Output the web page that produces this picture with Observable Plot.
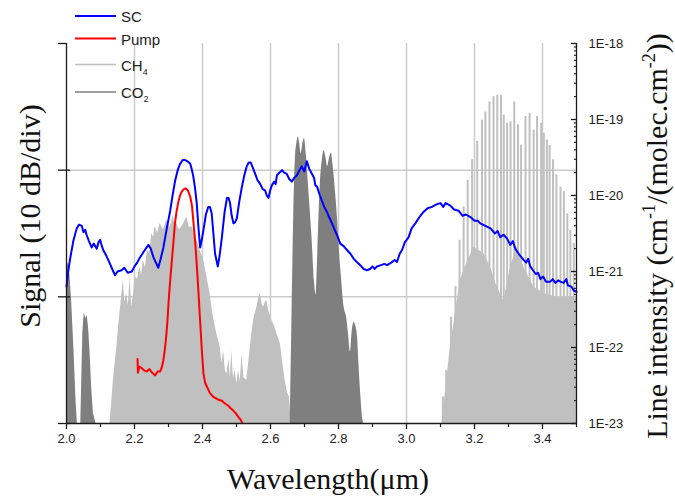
<!DOCTYPE html>
<html><head><meta charset="utf-8">
<script src="https://cdn.jsdelivr.net/npm/d3@7"></script>
<script src="https://cdn.jsdelivr.net/npm/@observablehq/plot@0.6"></script>
<style>body{margin:0;background:#fff}</style>
</head><body><div id="chart"></div>
<script>
// SC spectrum: [wavelength µm, relative signal dB]
const scData = [[2.000,-19.2],[2.005,-18.0],[2.010,-17.1],[2.020,-15.6],[2.030,-14.6],[2.037,-14.3],[2.045,-14.4],[2.050,-14.9],[2.055,-14.7],[2.059,-15.1],[2.066,-15.6],[2.074,-16.1],[2.080,-15.8],[2.089,-16.2],[2.094,-15.7],[2.099,-15.5],[2.104,-16.0],[2.108,-16.3],[2.118,-16.8],[2.128,-17.4],[2.136,-17.9],[2.143,-18.3],[2.150,-18.0],[2.162,-17.9],[2.170,-17.7],[2.180,-18.1],[2.192,-18.0],[2.200,-17.6],[2.208,-17.3],[2.216,-16.9],[2.228,-16.4],[2.241,-15.9],[2.248,-16.2],[2.256,-16.9],[2.263,-17.3],[2.270,-17.7],[2.277,-17.0],[2.285,-16.1],[2.295,-14.6],[2.305,-13.2],[2.312,-12.0],[2.319,-10.9],[2.327,-10.0],[2.334,-9.5],[2.342,-9.2],[2.349,-9.2],[2.356,-9.3],[2.364,-9.5],[2.369,-10.0],[2.373,-10.5],[2.378,-11.4],[2.383,-12.6],[2.388,-14.5],[2.393,-16.1],[2.398,-15.5],[2.403,-14.7],[2.410,-13.5],[2.417,-12.9],[2.422,-12.9],[2.427,-13.4],[2.432,-15.0],[2.437,-16.6],[2.445,-17.6],[2.450,-16.8],[2.457,-15.3],[2.465,-13.3],[2.472,-12.2],[2.477,-12.2],[2.481,-12.6],[2.486,-13.6],[2.491,-14.2],[2.496,-14.1],[2.501,-13.8],[2.508,-12.5],[2.516,-11.3],[2.523,-10.4],[2.530,-9.7],[2.536,-9.4],[2.542,-9.4],[2.548,-9.8],[2.555,-10.3],[2.562,-10.8],[2.570,-11.1],[2.577,-11.5],[2.584,-11.6],[2.589,-12.0],[2.594,-12.2],[2.599,-11.6],[2.604,-11.2],[2.611,-10.9],[2.615,-11.1],[2.619,-10.4],[2.626,-10.2],[2.634,-10.0],[2.640,-10.2],[2.648,-10.3],[2.655,-10.7],[2.663,-10.9],[2.670,-10.6],[2.678,-10.4],[2.685,-10.0],[2.692,-9.7],[2.699,-10.1],[2.707,-9.3],[2.714,-9.9],[2.722,-10.3],[2.728,-10.6],[2.732,-11.2],[2.737,-11.3],[2.744,-11.9],[2.751,-12.4],[2.758,-12.9],[2.766,-13.3],[2.774,-13.8],[2.781,-14.2],[2.790,-14.8],[2.797,-15.2],[2.805,-15.8],[2.815,-16.0],[2.825,-16.3],[2.835,-16.6],[2.845,-17.0],[2.854,-17.25],[2.864,-17.5],[2.874,-17.8],[2.884,-17.9],[2.893,-17.8],[2.900,-17.6],[2.906,-17.8],[2.913,-17.6],[2.925,-17.5],[2.935,-17.4],[2.943,-17.5],[2.955,-17.3],[2.965,-17.1],[2.972,-17.25],[2.980,-16.6],[2.987,-16.3],[2.995,-15.7],[3.006,-15.3],[3.015,-14.6],[3.026,-14.2],[3.038,-13.7],[3.050,-13.3],[3.062,-13.0],[3.075,-12.9],[3.088,-12.7],[3.100,-12.6],[3.108,-12.9],[3.115,-12.6],[3.129,-12.8],[3.140,-13.1],[3.153,-13.2],[3.165,-13.6],[3.175,-13.5],[3.188,-13.7],[3.200,-14.0],[3.210,-14.0],[3.217,-14.2],[3.232,-14.4],[3.247,-14.6],[3.260,-15.0],[3.268,-14.8],[3.276,-15.3],[3.285,-15.1],[3.296,-15.4],[3.305,-15.9],[3.313,-15.6],[3.320,-16.2],[3.330,-16.6],[3.345,-17.1],[3.352,-17.3],[3.358,-17.0],[3.364,-17.6],[3.372,-17.9],[3.380,-18.2],[3.387,-18.1],[3.394,-18.6],[3.402,-18.4],[3.410,-18.8],[3.423,-18.8],[3.430,-18.6],[3.438,-18.9],[3.446,-18.7],[3.453,-18.8],[3.462,-18.9],[3.470,-18.6],[3.475,-19.1],[3.485,-19.2],[3.492,-19.5],[3.500,-19.6]];

// Pump spectrum: [wavelength µm, relative signal dB]
const pumpData = [[2.209,-24.9],[2.210,-26.0],[2.214,-25.5],[2.220,-25.6],[2.228,-25.8],[2.236,-25.9],[2.244,-25.7],[2.252,-26.0],[2.261,-26.2],[2.268,-25.9],[2.275,-25.9],[2.280,-25.6],[2.285,-25.0],[2.289,-24.2],[2.293,-23.2],[2.297,-21.9],[2.300,-20.5],[2.305,-18.7],[2.310,-17.1],[2.315,-15.5],[2.319,-14.2],[2.324,-13.2],[2.329,-12.5],[2.334,-12.0],[2.339,-11.7],[2.345,-11.5],[2.351,-11.45],[2.357,-11.6],[2.364,-12.1],[2.369,-12.8],[2.373,-14.0],[2.378,-15.5],[2.383,-17.4],[2.388,-19.6],[2.393,-21.9],[2.398,-24.2],[2.403,-26.1],[2.408,-26.8],[2.413,-27.1],[2.422,-27.6],[2.432,-27.9],[2.445,-28.1],[2.457,-28.2],[2.465,-28.4],[2.476,-28.6],[2.483,-28.8],[2.491,-29.0],[2.498,-29.2],[2.506,-29.5],[2.512,-29.7],[2.516,-29.9]];

// CH4 line-intensity envelope, 2.1–2.66 µm: [wavelength µm, log10 intensity]
const ch4BandA = [[2.128,-23],[2.138,-22.43],[2.148,-21.99],[2.157,-21.55],[2.162,-21.35],[2.167,-21.12],[2.172,-21.4],[2.177,-21.29],[2.182,-21.45],[2.187,-21.07],[2.192,-21.47],[2.197,-21.3],[2.202,-21.07],[2.209,-21.1],[2.216,-20.94],[2.221,-21.05],[2.226,-20.85],[2.232,-20.95],[2.238,-20.72],[2.245,-20.75],[2.251,-20.50],[2.256,-20.55],[2.261,-20.41],[2.268,-20.5],[2.275,-20.37],[2.285,-20.45],[2.295,-20.33],[2.305,-20.42],[2.314,-20.26],[2.319,-20.4],[2.324,-20.37],[2.332,-20.45],[2.339,-20.41],[2.347,-20.35],[2.354,-20.28],[2.361,-20.42],[2.369,-20.41],[2.376,-20.5],[2.383,-20.59],[2.393,-20.72],[2.403,-20.85],[2.413,-21.07],[2.422,-21.29],[2.432,-21.60],[2.442,-21.82],[2.452,-21.99],[2.457,-22.2],[2.462,-22.04],[2.467,-22.3],[2.472,-22.35],[2.478,-22.15],[2.482,-22.4],[2.486,-22.04],[2.491,-22.4],[2.496,-22.3],[2.501,-22.48],[2.506,-22.3],[2.511,-22.45],[2.516,-22.10],[2.522,-22.4],[2.530,-22.43],[2.537,-22.15],[2.545,-21.82],[2.552,-21.6],[2.560,-21.47],[2.565,-21.35],[2.570,-21.29],[2.575,-21.42],[2.580,-21.47],[2.585,-21.4],[2.589,-21.38],[2.595,-21.52],[2.604,-21.64],[2.612,-21.72],[2.619,-21.82],[2.625,-21.9],[2.629,-21.95],[2.636,-22.2],[2.643,-22.43],[2.650,-22.6],[2.656,-22.65],[2.661,-23]];

// CH4 nu3 band dense background, 3.1–3.5 µm: [wavelength µm, log10 intensity]
const ch4BandBBase = [[3.104,-23],[3.114,-22.61],[3.129,-21.99],[3.144,-21.55],[3.158,-21.12],[3.173,-20.94],[3.198,-20.68],[3.227,-20.76],[3.247,-20.94],[3.266,-21.20],[3.286,-21.38],[3.306,-20.94],[3.325,-20.68],[3.345,-20.94],[3.374,-21.20],[3.404,-21.29],[3.443,-21.34],[3.472,-21.34],[3.500,-21.34]];

// CH4 nu3 band strong lines: [wavelength µm, log10 intensity]
const ch4BandBLines = [[3.107,-22.65],[3.117,-22.30],[3.131,-21.60],[3.144,-21.20],[3.156,-20.59],[3.168,-20.15],[3.180,-19.80],[3.193,-19.53],[3.208,-19.29],[3.222,-19.01],[3.232,-18.90],[3.244,-18.77],[3.256,-18.70],[3.267,-18.68],[3.278,-18.68],[3.286,-18.94],[3.296,-19.05],[3.306,-19.03],[3.317,-18.77],[3.328,-19.07],[3.337,-19.34],[3.350,-18.96],[3.362,-18.92],[3.374,-19.14],[3.384,-18.96],[3.396,-19.05],[3.404,-19.18],[3.413,-19.27],[3.421,-19.34],[3.431,-19.53],[3.441,-19.73],[3.453,-19.89],[3.463,-19.95],[3.473,-20.24],[3.482,-20.46],[3.492,-20.63]];

// CO2 bands: [wavelength µm, log10 intensity]
const co2BandA = [[2.000,-20.95],[2.005,-20.88],[2.010,-21.05],[2.015,-21.38],[2.022,-22.04],[2.028,-22.70],[2.032,-23]];
const co2BandB = [[2.042,-23],[2.045,-22.4],[2.048,-21.81],[2.052,-21.55],[2.057,-21.62],[2.061,-21.58],[2.065,-21.75],[2.069,-22.04],[2.074,-22.52],[2.079,-22.87],[2.087,-23]];
const co2BandC = [[2.658,-23],[2.663,-21.64],[2.668,-20.33],[2.673,-19.53],[2.678,-19.30],[2.682,-19.23],[2.686,-19.32],[2.690,-19.45],[2.695,-19.32],[2.700,-19.25],[2.705,-19.45],[2.712,-19.89],[2.722,-20.55],[2.729,-21.12],[2.734,-21.31],[2.739,-20.76],[2.746,-19.89],[2.752,-19.55],[2.758,-19.41],[2.763,-19.5],[2.768,-19.62],[2.774,-19.5],[2.779,-19.44],[2.784,-19.6],[2.790,-19.89],[2.797,-20.3],[2.803,-20.76],[2.809,-21.1],[2.815,-21.42],[2.825,-21.64],[2.830,-21.85],[2.835,-22.06],[2.840,-21.8],[2.846,-21.67],[2.851,-21.72],[2.856,-21.86],[2.860,-22.2],[2.864,-22.52],[2.872,-22.96],[2.874,-23]];

// ticks
const xTicks = [2.0, 2.2, 2.4, 2.6, 2.8, 3.0, 3.2, 3.4];
const xTickLabels = ["2.0", "2.2", "2.4", "2.6", "2.8", "3.0", "3.2", "3.4"];
const xMinorTicks = [2.1, 2.3, 2.5, 2.7, 2.9, 3.1, 3.3, 3.5];
const xGrid = [2.2, 2.4, 2.6, 2.8, 3.0, 3.2, 3.4];
const rightTicks = [1e-23, 1e-22, 1e-21, 1e-20, 1e-19, 1e-18];
const rightTickLabels = ["1E-23", "1E-22", "1E-21", "1E-20", "1E-19", "1E-18"];
const leftTicksDb = [-30, -20, -10, 0];
const leftGridDb = [-20, -10];
const legendItems = [
  {label: "SC", sub: "", color: "#0000ff"},
  {label: "Pump", sub: "", color: "#ff0000"},
  {label: "CH", sub: "4", color: "#c0c0c0"},
  {label: "CO", sub: "2", color: "#7f7f7f"}
];
const xTitle = "Wavelength(μm)";
const leftTitle = "Signal (10 dB/div)";

// map the left (dB, 10 dB/div over 3 divisions) axis onto the log intensity scale
const dbToI = v => 10 ** (-23 + (v + 30) / 6);
const pw = v => 10 ** v;

const minorRight = [];
for (let e = -23; e < -18; e++) for (let m = 2; m <= 9; m++) minorRight.push(m * 10 ** e);

const CH4 = "#c0c0c0", CO2 = "#7f7f7f", GRID = "#cbcbcb", AX = "#1a1a1a";

const chart = Plot.plot({
  width: 675, height: 497,
  marginLeft: 66, marginRight: 99, marginTop: 43, marginBottom: 74,
  style: {fontFamily: "'Liberation Sans', Arial, sans-serif", fontSize: "13px", background: "#fff", color: "#222", overflow: "visible"},
  x: {domain: [2, 3.5]},
  y: {type: "log", domain: [1e-23, 1e-18]},
  marks: [
    Plot.ruleX(xGrid, {stroke: GRID, strokeWidth: 1.5}),
    Plot.ruleY(leftGridDb, {y: d => dbToI(d), stroke: GRID, strokeWidth: 1.5}),
    Plot.areaY(ch4BandA, {x: d => d[0], y1: 1e-23, y2: d => pw(d[1]), fill: CH4}),
    Plot.areaY(ch4BandBBase, {x: d => d[0], y1: 1e-23, y2: d => pw(d[1]), fill: CH4}),
    Plot.ruleX(ch4BandBLines, {x: d => d[0], y1: 1e-23, y2: d => pw(d[1]), stroke: CH4, strokeWidth: 2}),
    Plot.areaY(co2BandA, {x: d => d[0], y1: 1e-23, y2: d => pw(d[1]), fill: CO2}),
    Plot.areaY(co2BandB, {x: d => d[0], y1: 1e-23, y2: d => pw(d[1]), fill: CO2}),
    Plot.areaY(co2BandC, {x: d => d[0], y1: 1e-23, y2: d => pw(d[1]), fill: CO2, curve: "monotone-x"}),
    Plot.line(pumpData, {x: d => d[0], y: d => dbToI(d[1]), stroke: "#ff0000", strokeWidth: 2}),
    Plot.line(scData, {x: d => d[0], y: d => dbToI(d[1]), stroke: "#0000ff", strokeWidth: 2}),
    Plot.ruleX([2, 3.5], {stroke: AX, strokeWidth: 1.3}),
    Plot.ruleY([1e-23], {stroke: AX, strokeWidth: 1.3}),
    Plot.axisX(xTicks, {tickSize: 6, tickPadding: 4, stroke: AX, strokeWidth: 1.3,
      tickFormat: d => xTickLabels[xTicks.indexOf(d)], label: null, fontSize: 13}),
    Plot.axisX(xMinorTicks, {tickSize: 4, stroke: AX, strokeWidth: 1.2, tickFormat: () => "", label: null}),
    Plot.axisY(leftTicksDb.map(dbToI), {anchor: "left", tickSize: 8, stroke: AX, strokeWidth: 1.3, tickFormat: () => "", label: null}),
    Plot.axisY(leftTicksDb.slice(0, 3).map(dbToI), {anchor: "left", tickSize: -4, stroke: AX, strokeWidth: 1.3, tickFormat: () => "", label: null}),
    Plot.axisY(rightTicks, {anchor: "right", tickSize: -6, stroke: AX, strokeWidth: 1.3, tickFormat: () => "", label: null}),
    Plot.axisY(minorRight, {anchor: "right", tickSize: -3, stroke: AX, strokeWidth: 1.1, tickFormat: () => "", label: null}),
    Plot.axisY(rightTicks, {anchor: "right", tickSize: 0, tickPadding: 12, textAnchor: "start",
      tickFormat: d => rightTickLabels[rightTicks.indexOf(d)], label: null, fontSize: 13})
  ]
});
document.getElementById("chart").append(chart);

const svg = d3.select(chart);
// legend
const legendY = [16, 38.5, 64.5, 92];
legendItems.forEach((it, i) => {
  const y = legendY[i];
  svg.append("line").attr("x1", 75).attr("x2", 116).attr("y1", y).attr("y2", y)
    .attr("stroke", it.color).attr("stroke-width", i < 2 ? 2 : 1.6);
  const t = svg.append("text").attr("x", 121).attr("y", y + 6).attr("text-anchor", "start")
    .attr("font-family", "'Liberation Sans', Arial, sans-serif").attr("font-size", 15).attr("fill", "#222")
    .text(it.label);
  if (it.sub) t.append("tspan").attr("font-size", 9).attr("dy", 4).text(it.sub);
});
// axis titles
const serif = "'Liberation Serif', 'Times New Roman', serif";
svg.append("text").attr("x", 328).attr("y", 489).attr("text-anchor", "middle")
  .attr("font-family", serif).attr("font-size", 30).attr("fill", "#111").text(xTitle);
svg.append("text").attr("transform", "translate(40,216) rotate(-90)").attr("text-anchor", "middle")
  .attr("font-family", serif).attr("font-size", 30).attr("fill", "#111").text(leftTitle);
const rt = svg.append("text").attr("transform", "translate(667,236) rotate(-90)").attr("text-anchor", "middle")
  .attr("font-family", serif).attr("font-size", 30).attr("fill", "#111");
rt.append("tspan").text("Line intensity (cm");
rt.append("tspan").attr("font-size", 18).attr("dy", -12).text("-1");
rt.append("tspan").attr("dy", 12).text("/(molec.cm");
rt.append("tspan").attr("font-size", 18).attr("dy", -12).text("-2");
rt.append("tspan").attr("dy", 12).text("))");
</script>
</body></html>
